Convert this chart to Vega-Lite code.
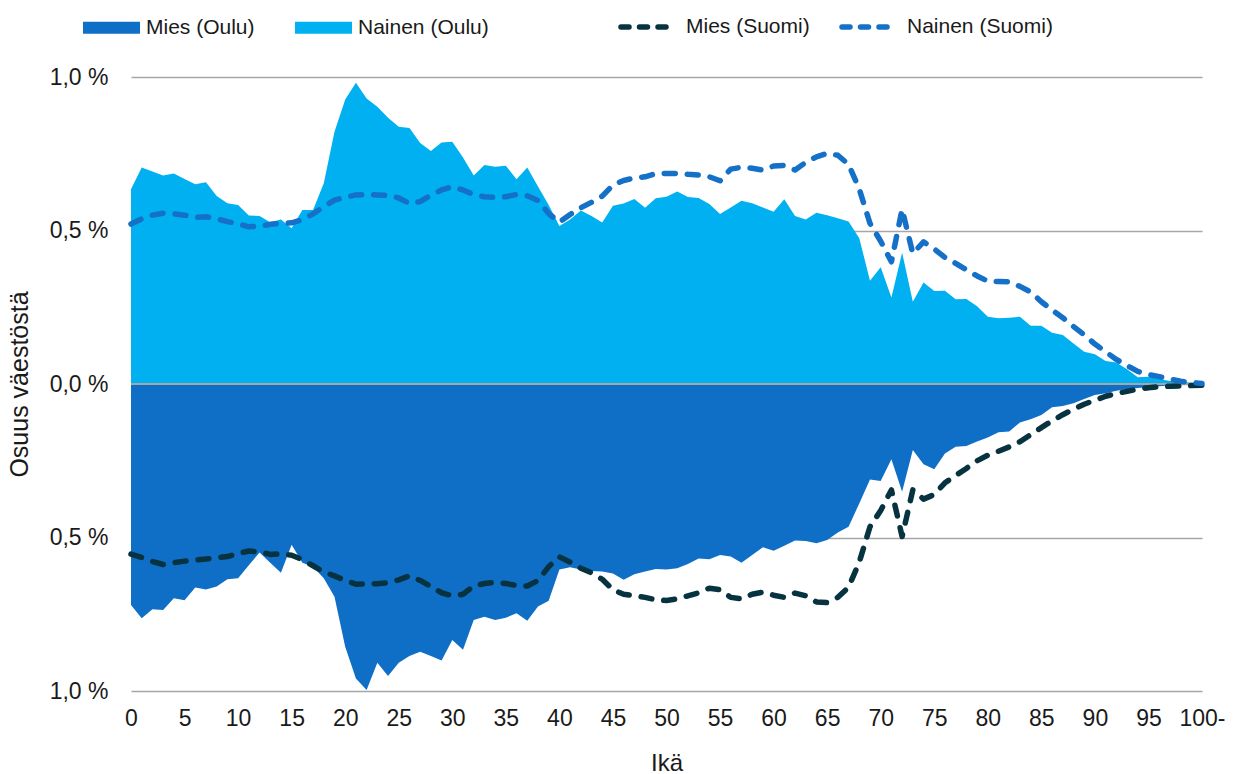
{
  "$schema": "https://vega.github.io/schema/vega-lite/v6.json",
  "width": 1071,
  "height": 614,
  "autosize": {"type": "none"},
  "padding": {"left": 131, "top": 77, "right": 35, "bottom": 83},
  "background": "white",
  "config": {
    "view": {"stroke": null},
    "font": "Liberation Sans",
    "axis": {"labelFont": "Liberation Sans", "titleFont": "Liberation Sans", "labelColor": "#1a1a1a", "titleColor": "#1a1a1a", "labelFontSize": 22, "titleFontSize": 24, "titleFontWeight": "normal"},
    "legend": {"labelFont": "Liberation Sans", "labelFontSize": 21, "labelColor": "#1a1a1a"}
  },
  "data": {
    "values": [
      {"ika":0,"mo":-0.720,"no":0.634,"ms":-0.554,"ns":0.521},
      {"ika":1,"mo":-0.763,"no":0.705,"ms":-0.565,"ns":0.538},
      {"ika":2,"mo":-0.734,"no":0.692,"ms":-0.578,"ns":0.550},
      {"ika":3,"mo":-0.736,"no":0.679,"ms":-0.588,"ns":0.556},
      {"ika":4,"mo":-0.698,"no":0.686,"ms":-0.582,"ns":0.554},
      {"ika":5,"mo":-0.704,"no":0.668,"ms":-0.577,"ns":0.550},
      {"ika":6,"mo":-0.663,"no":0.651,"ms":-0.573,"ns":0.543},
      {"ika":7,"mo":-0.669,"no":0.657,"ms":-0.570,"ns":0.545},
      {"ika":8,"mo":-0.660,"no":0.612,"ms":-0.566,"ns":0.538},
      {"ika":9,"mo":-0.636,"no":0.589,"ms":-0.562,"ns":0.529},
      {"ika":10,"mo":-0.633,"no":0.583,"ms":-0.552,"ns":0.522},
      {"ika":11,"mo":-0.590,"no":0.549,"ms":-0.544,"ns":0.512},
      {"ika":12,"mo":-0.549,"no":0.547,"ms":-0.547,"ns":0.514},
      {"ika":13,"mo":-0.582,"no":0.527,"ms":-0.555,"ns":0.520},
      {"ika":14,"mo":-0.615,"no":0.536,"ms":-0.553,"ns":0.523},
      {"ika":15,"mo":-0.524,"no":0.507,"ms":-0.558,"ns":0.525},
      {"ika":16,"mo":-0.582,"no":0.567,"ms":-0.572,"ns":0.535},
      {"ika":17,"mo":-0.595,"no":0.567,"ms":-0.592,"ns":0.554},
      {"ika":18,"mo":-0.633,"no":0.654,"ms":-0.612,"ns":0.578},
      {"ika":19,"mo":-0.693,"no":0.822,"ms":-0.625,"ns":0.599},
      {"ika":20,"mo":-0.856,"no":0.927,"ms":-0.640,"ns":0.608},
      {"ika":21,"mo":-0.959,"no":0.981,"ms":-0.652,"ns":0.616},
      {"ika":22,"mo":-0.997,"no":0.930,"ms":-0.651,"ns":0.617},
      {"ika":23,"mo":-0.908,"no":0.903,"ms":-0.651,"ns":0.616},
      {"ika":24,"mo":-0.951,"no":0.867,"ms":-0.647,"ns":0.614},
      {"ika":25,"mo":-0.908,"no":0.838,"ms":-0.638,"ns":0.606},
      {"ika":26,"mo":-0.886,"no":0.834,"ms":-0.625,"ns":0.588},
      {"ika":27,"mo":-0.872,"no":0.785,"ms":-0.640,"ns":0.594},
      {"ika":28,"mo":-0.886,"no":0.759,"ms":-0.660,"ns":0.615},
      {"ika":29,"mo":-0.901,"no":0.787,"ms":-0.680,"ns":0.632},
      {"ika":30,"mo":-0.834,"no":0.789,"ms":-0.690,"ns":0.643},
      {"ika":31,"mo":-0.866,"no":0.738,"ms":-0.685,"ns":0.632},
      {"ika":32,"mo":-0.769,"no":0.679,"ms":-0.658,"ns":0.617},
      {"ika":33,"mo":-0.758,"no":0.713,"ms":-0.650,"ns":0.610},
      {"ika":34,"mo":-0.769,"no":0.708,"ms":-0.646,"ns":0.608},
      {"ika":35,"mo":-0.761,"no":0.711,"ms":-0.650,"ns":0.610},
      {"ika":36,"mo":-0.747,"no":0.667,"ms":-0.656,"ns":0.617},
      {"ika":37,"mo":-0.771,"no":0.705,"ms":-0.658,"ns":0.613},
      {"ika":38,"mo":-0.725,"no":0.643,"ms":-0.640,"ns":0.598},
      {"ika":39,"mo":-0.706,"no":0.583,"ms":-0.595,"ns":0.555},
      {"ika":40,"mo":-0.604,"no":0.515,"ms":-0.563,"ns":0.527},
      {"ika":41,"mo":-0.597,"no":0.536,"ms":-0.580,"ns":0.552},
      {"ika":42,"mo":-0.604,"no":0.565,"ms":-0.600,"ns":0.574},
      {"ika":43,"mo":-0.609,"no":0.547,"ms":-0.615,"ns":0.592},
      {"ika":44,"mo":-0.611,"no":0.526,"ms":-0.636,"ns":0.612},
      {"ika":45,"mo":-0.617,"no":0.581,"ms":-0.670,"ns":0.648},
      {"ika":46,"mo":-0.638,"no":0.588,"ms":-0.685,"ns":0.663},
      {"ika":47,"mo":-0.620,"no":0.603,"ms":-0.690,"ns":0.671},
      {"ika":48,"mo":-0.611,"no":0.574,"ms":-0.695,"ns":0.675},
      {"ika":49,"mo":-0.603,"no":0.605,"ms":-0.703,"ns":0.685},
      {"ika":50,"mo":-0.604,"no":0.610,"ms":-0.705,"ns":0.686},
      {"ika":51,"mo":-0.600,"no":0.627,"ms":-0.700,"ns":0.686},
      {"ika":52,"mo":-0.586,"no":0.609,"ms":-0.690,"ns":0.683},
      {"ika":53,"mo":-0.568,"no":0.606,"ms":-0.680,"ns":0.681},
      {"ika":54,"mo":-0.571,"no":0.586,"ms":-0.665,"ns":0.675},
      {"ika":55,"mo":-0.557,"no":0.554,"ms":-0.670,"ns":0.662},
      {"ika":56,"mo":-0.562,"no":0.575,"ms":-0.695,"ns":0.700},
      {"ika":57,"mo":-0.582,"no":0.597,"ms":-0.700,"ns":0.706},
      {"ika":58,"mo":-0.557,"no":0.589,"ms":-0.685,"ns":0.703},
      {"ika":59,"mo":-0.532,"no":0.575,"ms":-0.678,"ns":0.697},
      {"ika":60,"mo":-0.543,"no":0.561,"ms":-0.688,"ns":0.710},
      {"ika":61,"mo":-0.527,"no":0.602,"ms":-0.695,"ns":0.712},
      {"ika":62,"mo":-0.510,"no":0.547,"ms":-0.681,"ns":0.697},
      {"ika":63,"mo":-0.511,"no":0.536,"ms":-0.690,"ns":0.722},
      {"ika":64,"mo":-0.519,"no":0.558,"ms":-0.710,"ns":0.740},
      {"ika":65,"mo":-0.508,"no":0.550,"ms":-0.712,"ns":0.751},
      {"ika":66,"mo":-0.484,"no":0.540,"ms":-0.695,"ns":0.745},
      {"ika":67,"mo":-0.465,"no":0.529,"ms":-0.662,"ns":0.715},
      {"ika":68,"mo":-0.389,"no":0.475,"ms":-0.580,"ns":0.635},
      {"ika":69,"mo":-0.311,"no":0.336,"ms":-0.465,"ns":0.523},
      {"ika":70,"mo":-0.316,"no":0.380,"ms":-0.412,"ns":0.465},
      {"ika":71,"mo":-0.245,"no":0.282,"ms":-0.345,"ns":0.398},
      {"ika":72,"mo":-0.351,"no":0.428,"ms":-0.497,"ns":0.569},
      {"ika":73,"mo":-0.215,"no":0.268,"ms":-0.345,"ns":0.425},
      {"ika":74,"mo":-0.261,"no":0.331,"ms":-0.375,"ns":0.463},
      {"ika":75,"mo":-0.278,"no":0.303,"ms":-0.360,"ns":0.440},
      {"ika":76,"mo":-0.226,"no":0.304,"ms":-0.322,"ns":0.412},
      {"ika":77,"mo":-0.204,"no":0.276,"ms":-0.298,"ns":0.393},
      {"ika":78,"mo":-0.202,"no":0.277,"ms":-0.275,"ns":0.372},
      {"ika":79,"mo":-0.187,"no":0.253,"ms":-0.250,"ns":0.352},
      {"ika":80,"mo":-0.174,"no":0.219,"ms":-0.232,"ns":0.335},
      {"ika":81,"mo":-0.157,"no":0.214,"ms":-0.219,"ns":0.334},
      {"ika":82,"mo":-0.155,"no":0.216,"ms":-0.205,"ns":0.333},
      {"ika":83,"mo":-0.125,"no":0.219,"ms":-0.188,"ns":0.318},
      {"ika":84,"mo":-0.115,"no":0.190,"ms":-0.165,"ns":0.300},
      {"ika":85,"mo":-0.101,"no":0.190,"ms":-0.142,"ns":0.268},
      {"ika":86,"mo":-0.076,"no":0.167,"ms":-0.120,"ns":0.241},
      {"ika":87,"mo":-0.072,"no":0.160,"ms":-0.100,"ns":0.216},
      {"ika":88,"mo":-0.063,"no":0.132,"ms":-0.082,"ns":0.187},
      {"ika":89,"mo":-0.049,"no":0.105,"ms":-0.066,"ns":0.160},
      {"ika":90,"mo":-0.036,"no":0.097,"ms":-0.053,"ns":0.130},
      {"ika":91,"mo":-0.030,"no":0.075,"ms":-0.040,"ns":0.105},
      {"ika":92,"mo":-0.022,"no":0.070,"ms":-0.031,"ns":0.080},
      {"ika":93,"mo":-0.016,"no":0.048,"ms":-0.024,"ns":0.060},
      {"ika":94,"mo":-0.013,"no":0.022,"ms":-0.017,"ns":0.041},
      {"ika":95,"mo":-0.010,"no":0.024,"ms":-0.012,"ns":0.031},
      {"ika":96,"mo":-0.007,"no":0.016,"ms":-0.009,"ns":0.024},
      {"ika":97,"mo":-0.005,"no":0.010,"ms":-0.007,"ns":0.016},
      {"ika":98,"mo":-0.003,"no":0.008,"ms":-0.006,"ns":0.009},
      {"ika":99,"mo":-0.002,"no":0.004,"ms":-0.005,"ns":0.005},
      {"ika":100,"mo":-0.001,"no":0.002,"ms":-0.004,"ns":0.002}
    ]
  },
  "transform": [{"fold": ["mo", "no", "ms", "ns"], "as": ["sarja", "osuus"]}],
  "encoding": {
    "x": {
      "field": "ika", "type": "quantitative",
      "scale": {"domain": [0, 100], "nice": false, "zero": false},
      "axis": {
        "values": [0,5,10,15,20,25,30,35,40,45,50,55,60,65,70,75,80,85,90,95,100],
        "labelExpr": "datum.value == 100 ? '100-' : datum.label",
        "labelOverlap": false, "labelFlush": false, "labelFontSize": 23,
        "domain": false, "ticks": false, "grid": false,
        "labelPadding": 16, "title": "Ikä", "titlePadding": 21
      }
    },
    "y": {
      "field": "osuus", "type": "quantitative",
      "scale": {"domain": [-1, 1], "nice": false},
      "axis": {
        "values": [-1, -0.5, 0, 0.5, 1],
        "labelExpr": "replace(format(abs(datum.value), '.1f'), '.', ',') + ' %'",
        "labelFontSize": 23,
        "domain": false, "ticks": false, "grid": true,
        "gridColor": "#A6A6A6", "gridWidth": 1.5,
        "labelPadding": 23, "title": "Osuus väestöstä", "titleFontSize": 25, "titlePadding": 17
      }
    }
  },
  "layer": [
    {
      "transform": [{"filter": {"field": "sarja", "oneOf": ["mo", "no"]}}],
      "mark": {"type": "area", "interpolate": "linear"},
      "encoding": {
        "y": {"field": "osuus", "type": "quantitative", "stack": null},
        "fill": {
          "field": "sarja", "type": "nominal",
          "scale": {"domain": ["mo", "no"], "range": ["#0F6FC6", "#00B0F0"]},
          "legend": {
            "orient": "none", "legendX": -48, "legendY": -78,
            "direction": "horizontal", "title": null,
            "symbolType": "M-1,-0.21H1V0.21H-1Z", "symbolSize": 3249,
            "symbolStrokeWidth": 0, "labelOffset": 6, "columnPadding": 40,
            "labelExpr": "datum.value == 'mo' ? 'Mies (Oulu)' : 'Nainen (Oulu)'"
          }
        }
      }
    },
    {
      "mark": {"type": "rule", "color": "#A6A6A6", "strokeWidth": 2},
      "encoding": {"y": {"datum": 0}, "x": {"datum": 0}, "x2": {"datum": 100}}
    },
    {
      "transform": [{"filter": {"field": "sarja", "oneOf": ["ms", "ns"]}}],
      "mark": {"type": "line", "strokeWidth": 5.5, "strokeDash": [11, 12], "strokeCap": "round", "strokeJoin": "round"},
      "encoding": {
        "stroke": {
          "field": "sarja", "type": "nominal",
          "scale": {"domain": ["ms", "ns"], "range": ["#073341", "#1570C8"]},
          "legend": {
            "orient": "none", "legendX": 487, "legendY": -78,
            "direction": "horizontal", "title": null,
            "symbolType": "stroke", "symbolSize": 2500,
            "symbolStrokeWidth": 5.5, "symbolDash": [8, 10.5],
            "labelOffset": 12, "columnPadding": 21,
            "labelExpr": "datum.value == 'ms' ? 'Mies (Suomi)' : 'Nainen (Suomi)'",
            "encode": {"symbols": {"update": {"strokeCap": {"value": "round"}}}}
          }
        }
      }
    }
  ]
}
